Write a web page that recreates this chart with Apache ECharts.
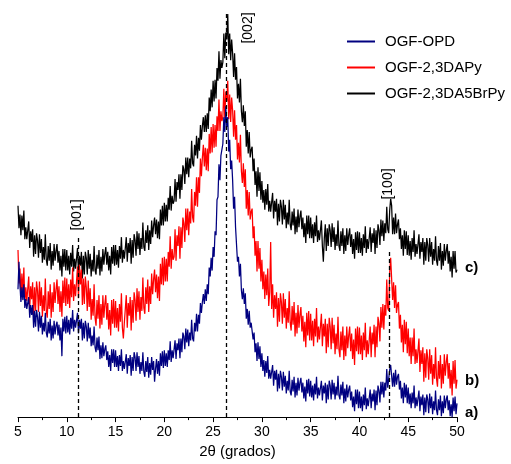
<!DOCTYPE html>
<html>
<head>
<meta charset="utf-8">
<script src="https://cdn.jsdelivr.net/npm/echarts@6/dist/echarts.min.js"></script>
<style>
html,body{margin:0;padding:0;background:#fff;}
#chart{width:511px;height:464px;}
</style>
</head>
<body>
<div id="chart"></div>
<script>
// 2θ sampling grid (degrees): 5.0, 5.1, ... 50.0
var twoThetaStart = 5;
var twoThetaStep = 0.1;

var seriesNames = ['OGF-OPD', 'OGF-2,3DAPy', 'OGF-2,3DA5BrPy'];

// Intensities (arbitrary units), one row per degree (10 samples), last value at 50°
var intensityBrPy = [
215,192,206,185,205,190,210,181,193,181,
180,199,172,189,178,191,163,185,166,187,
180,162,186,167,181,157,173,160,186,160,
154,174,159,177,150,169,154,176,159,169,
176,157,169,149,164,143,171,153,171,149,
170,149,164,145,167,153,175,148,161,151,
152,172,146,164,154,168,141,164,145,168,
162,145,170,151,166,143,160,148,174,149,
145,165,151,170,144,163,148,171,155,166,
173,155,168,149,164,145,173,156,175,154,
175,155,170,152,174,161,183,157,170,161,
162,183,158,177,167,182,156,180,162,186,
180,164,189,171,187,165,182,171,198,173,
169,190,177,195,170,190,176,200,183,195,
203,186,201,182,199,181,211,195,215,195,
218,199,216,199,223,211,235,210,225,217,
220,242,219,239,231,247,222,247,231,256,
252,237,264,247,264,244,263,253,281,258,
255,277,266,286,263,284,271,297,282,296,
305,290,307,290,309,293,325,311,333,315,
342,321,343,324,355,342,372,344,363,355,
361,390,365,391,384,410,369,390,363,384,
370,346,370,343,356,324,339,320,344,311,
300,317,296,311,275,292,268,290,264,272,
275,250,263,236,250,224,254,230,249,221,
240,218,231,211,232,216,237,209,220,209,
209,228,202,220,209,222,195,217,199,221,
214,196,221,201,216,192,208,196,221,196,
190,209,195,212,186,204,188,211,193,204,
210,191,203,183,197,177,205,186,205,182,
203,182,196,177,198,184,205,178,190,180,
180,200,174,158,182,196,169,192,174,196,
190,173,197,178,193,170,186,174,200,174,
169,189,174,192,166,185,169,192,175,185,
192,173,186,166,181,161,188,170,189,167,
188,167,182,164,186,172,194,167,181,171,
172,193,168,187,177,192,166,190,172,196,
190,175,201,184,200,179,197,187,214,191,
187,210,222,215,186,203,186,207,187,196,
201,181,192,171,185,164,190,171,189,165,
185,164,179,160,182,168,190,163,176,166,
167,186,161,178,168,182,155,178,159,182,
175,158,182,163,178,155,171,159,184,159,
154,174,159,177,150,169,154,176,159,169,
176,156,169,148,163,142,169,151,169,147,
150
];

var intensityDAPy = [
170,136,151,122,146,125,152,116,132,118,
118,143,110,133,120,137,102,132,108,138,
129,107,138,113,132,102,124,108,141,108,
101,128,110,135,101,127,107,137,116,130,
140,115,133,107,128,102,139,116,142,113,
141,115,135,111,140,122,152,118,135,123,
125,153,121,155,135,150,114,141,115,143,
132,108,139,112,131,99,120,103,135,101,
93,119,100,124,90,115,94,124,101,115,
124,99,116,89,109,83,119,95,120,91,
118,91,111,87,115,97,126,91,80,96,
97,124,91,116,103,122,88,119,96,127,
119,98,131,107,128,99,122,108,142,111,
105,132,115,140,107,133,115,146,125,140,
150,127,145,121,143,118,156,135,162,134,
163,138,161,138,168,153,184,151,171,160,
163,191,159,185,174,194,161,193,172,203,
197,178,212,190,212,185,209,197,232,203,
198,229,215,244,214,244,228,263,245,264,
277,255,274,251,273,250,288,268,295,269,
298,274,297,275,306,291,323,291,311,301,
305,334,304,331,321,342,303,328,300,325,
312,285,312,282,297,262,279,259,287,250,
238,258,234,252,212,231,205,229,201,209,
212,182,194,164,179,148,179,151,172,138,
160,130,148,120,145,124,151,113,127,178,
110,135,101,124,110,127,92,121,97,126,
117,95,126,101,120,90,111,96,128,96,
88,113,94,117,82,106,85,114,91,104,
112,87,103,77,97,71,106,83,108,78,
105,78,98,72,100,82,111,76,92,79,
80,105,72,95,82,100,65,95,71,101,
92,69,101,75,94,64,85,69,102,69,
61,87,68,92,58,83,62,92,70,83,
92,67,85,59,79,53,90,67,92,64,
91,64,83,58,86,68,96,61,78,64,
65,92,61,86,74,94,61,92,71,102,
95,77,112,91,115,89,114,103,140,111,
108,147,162,161,119,137,111,134,106,114,
117,90,104,76,94,66,99,74,97,65,
90,62,81,54,81,62,90,54,69,55,
55,80,46,68,54,71,36,65,40,69,
60,38,69,44,63,33,54,39,71,39,
31,57,39,63,29,54,34,64,42,56,
64,39,55,29,48,22,57,34,58,29,
38
];

var intensityOPD = [
130,158,134,117,132,119,135,111,120,110,
108,122,101,114,104,114,91,108,92,109,
102,87,107,91,103,84,96,87,106,86,
81,97,85,100,78,93,80,98,84,93,
97,83,94,78,91,62,100,87,102,85,
103,86,99,84,101,90,109,87,99,91,
91,106,85,99,90,100,78,96,80,98,
92,77,96,80,91,72,83,73,92,71,
66,81,68,82,59,73,60,76,62,69,
73,58,67,51,63,47,69,55,69,51,
68,51,62,47,63,52,69,47,57,49,
48,64,44,60,52,63,42,61,47,66,
61,47,66,51,62,44,56,47,66,46,
41,57,46,61,40,55,43,61,48,57,
36,49,59,44,57,42,65,52,67,50,
68,52,65,51,68,58,77,56,68,60,
61,78,59,75,68,80,60,80,66,86,
82,69,90,76,89,72,86,78,99,80,
77,96,87,105,87,104,95,116,106,117,
125,115,130,118,135,125,152,143,162,149,
173,163,189,185,221,224,257,241,266,267,
278,305,290,316,295,305,270,282,252,261,
241,212,224,193,194,158,163,143,156,129,
120,131,115,126,100,110,94,108,91,96,
97,79,86,66,75,57,76,59,72,51,
65,47,58,41,57,45,62,39,48,39,
38,53,32,47,38,48,26,44,29,47,
41,27,46,31,42,24,37,27,47,26,
22,38,26,41,20,35,22,40,27,35,
40,25,35,19,31,16,38,24,39,21,
37,20,32,17,34,23,41,19,30,22,
21,37,17,32,24,35,14,33,18,37,
32,18,38,23,35,18,31,22,42,22,
18,33,22,36,14,29,16,33,20,28,
32,17,26,10,21,6,28,13,28,9,
26,9,21,6,23,12,30,8,19,11,
12,28,9,24,16,28,7,27,12,32,
27,15,36,23,36,20,35,27,49,30,
28,48,53,54,31,45,31,48,33,41,
44,28,37,19,30,14,35,20,33,14,
30,13,24,9,25,14,32,9,20,11,
11,27,6,21,12,23,2,20,5,23,
18,4,24,9,21,3,16,7,27,7,
2,18,7,22,1,16,4,22,9,18,
22,7,17,1,13,0,20,6,21,3,
14
];

// Reflections: position (2θ) and height reached by the guide line
var peakLabels = ['[001]', '[002]', '[100]'];
var peakPositions = [11.2, 26.3, 43.1];
var peakLineTops = [184, 410, 168];

var xTicks = [5, 10, 15, 20, 25, 30, 35, 40, 45, 50];
var curveLabels = ['a)', 'b)', 'c)'];

function pairs(arr) {
  return arr.map(function (v, i) {
    return [Math.round((twoThetaStart + i * twoThetaStep) * 100) / 100, v];
  });
}

var FONT = '"Liberation Sans", Arial, Helvetica, sans-serif';
var chart = echarts.init(document.getElementById('chart'), null, {renderer: 'canvas'});

var markData = peakPositions.map(function (p, i) {
  return [{coord: [p, 0]}, {coord: [p, peakLineTops[i]]}];
});

var option = {
  animation: false,
  backgroundColor: '#fff',
  grid: {left: 18, right: 54, top: 10, bottom: 40, containLabel: false},
  legend: {
    data: seriesNames,
    orient: 'vertical',
    left: 347,
    top: 33,
    padding: 0,
    icon: 'rect',
    itemWidth: 28,
    itemHeight: 2,
    itemGap: 9,
    textStyle: {fontFamily: FONT, fontSize: 15, color: '#000', padding: [0, 0, 0, 5], lineHeight: 17}
  },
  xAxis: {
    type: 'value',
    min: xTicks[0],
    max: xTicks[xTicks.length - 1],
    interval: 5,
    name: '2θ (grados)',
    nameLocation: 'middle',
    nameGap: 22,
    nameTextStyle: {fontFamily: FONT, fontSize: 15, color: '#000'},
    axisLine: {lineStyle: {color: '#000', width: 1}},
    axisTick: {inside: false, length: 5, lineStyle: {color: '#000'}},
    minorTick: {show: true, splitNumber: 2, length: 3, lineStyle: {color: '#000'}},
    axisLabel: {fontFamily: FONT, fontSize: 14, color: '#000', margin: 8},
    splitLine: {show: false}
  },
  yAxis: {
    type: 'value', min: 0, max: 414, show: false, splitLine: {show: false}
  },
  series: [
    {
      name: seriesNames[2], type: 'line', data: pairs(intensityBrPy),
      symbol: 'none', lineStyle: {color: '#000000', width: 1.25}, itemStyle: {color: '#000000'}
    },
    {
      name: seriesNames[1], type: 'line', data: pairs(intensityDAPy),
      symbol: 'none', lineStyle: {color: '#ff0000', width: 1.25}, itemStyle: {color: '#ff0000'}
    },
    {
      name: seriesNames[0], type: 'line', data: pairs(intensityOPD),
      symbol: 'none', lineStyle: {color: '#000080', width: 1.25}, itemStyle: {color: '#000080'},
      markLine: {
        silent: true,
        symbol: ['none', 'none'],
        label: {show: false},
        lineStyle: {color: '#000', type: [4, 3], width: 1.3},
        data: markData
      }
    }
  ]
};
chart.setOption(option);

// Text annotations
var bracketPos = [[77, 215], [248, 28], [388, 184]];
var curveLabelPos = [[465, 413], [465, 381], [465, 268]];
var graphics = [];
peakLabels.forEach(function (t, i) {
  graphics.push({
    type: 'text', x: bracketPos[i][0], y: bracketPos[i][1], rotation: Math.PI / 2,
    style: {text: t, font: '14px ' + FONT, fill: '#000', textAlign: 'center', textVerticalAlign: 'middle'}
  });
});
curveLabels.forEach(function (t, i) {
  graphics.push({
    type: 'text', x: curveLabelPos[i][0], y: curveLabelPos[i][1],
    style: {text: t, font: 'bold 15px ' + FONT, fill: '#000', textAlign: 'left', textVerticalAlign: 'middle'}
  });
});
chart.setOption({graphic: graphics});
</script>
</body>
</html>
